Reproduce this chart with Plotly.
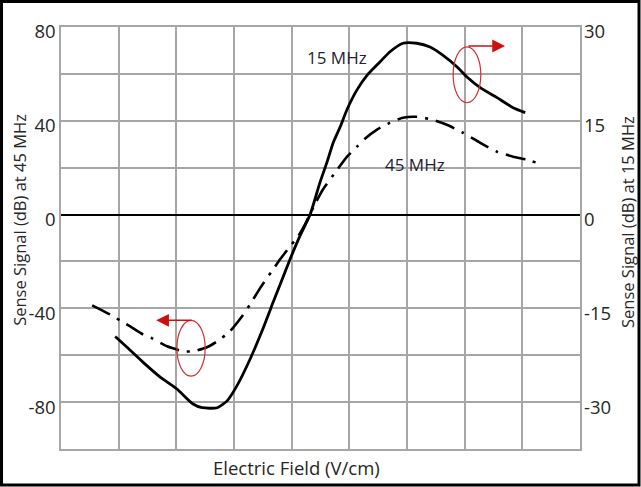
import plotly.graph_objects as go

# Electric field positions (grid units) and sense signal readings
field_45 = [0.54, 0.85, 1.02, 1.20, 1.42, 1.58, 1.84, 2.12, 2.29, 2.53, 2.71, 2.93,
            3.14, 3.28, 3.45, 3.66, 3.80, 3.97, 4.11, 4.23, 4.40, 4.54, 4.79, 4.96,
            5.13, 5.27, 5.48, 5.70, 5.93, 6.17, 6.45, 6.69, 6.97, 7.27, 7.56, 7.84,
            8.08, 8.25]
signal_45 = [-38.7, -42.6, -45.1, -47.7, -51.1, -52.8, -56.2, -58.3, -58.3, -56.6, -54.0, -49.8,
             -43.4, -38.3, -31.5, -24.0, -19.1, -13.6, -9.4, -4.3, 4.3, 10.6, 19.1, 24.7,
             28.9, 32.3, 36.2, 39.1, 41.3, 41.7, 40.4, 38.3, 34.9, 30.6, 26.8, 24.7,
             23.4, 22.1]

field_15 = [0.94, 1.14, 1.42, 1.72, 2.01, 2.29, 2.45, 2.71, 2.88, 3.05, 3.28, 3.50,
            3.68, 3.97, 4.14, 4.32, 4.49, 4.61, 4.72, 4.84, 4.96, 5.13, 5.31, 5.53,
            5.70, 5.93, 6.17, 6.40, 6.62, 6.87, 7.04, 7.27, 7.56, 7.84, 8.05]
signal_15 = [-19.5, -21.2, -23.6, -26.0, -27.9, -30.3, -30.9, -30.9, -29.8, -27.4, -23.1, -18.3,
             -14.0, -7.2, -3.5, 0.0, 5.1, 8.3, 11.5, 14.0, 16.8, 19.9, 22.3, 24.4,
             26.0, 27.4, 27.4, 26.8, 25.5, 23.6, 22.0, 20.3, 18.7, 17.1, 16.3]

left_ticks = [-80, -40, 0, 40, 80]
left_labels = ["-80", "-40", "0", "40", "80"]
right_ticks = [-30, -15, 0, 15, 30]
right_labels = ["-30", "-15", "0", "15", "30"]

FONT = "Open Sans"
TXT = "#262626"
GRID = "#a6a6a6"

fig = go.Figure()
fig.add_trace(go.Scatter(
    x=field_45, y=signal_45, mode="lines", yaxis="y",
    line=dict(color="black", width=2.6, dash="20px,8px,3px,8px", shape="spline", smoothing=0.6),
    showlegend=False, hoverinfo="skip"))
fig.add_trace(go.Scatter(
    x=field_15, y=signal_15, mode="lines", yaxis="y2",
    line=dict(color="black", width=2.8, shape="spline", smoothing=0.6),
    showlegend=False, hoverinfo="skip"))

fig.update_layout(
    width=641, height=487,
    margin=dict(l=61, r=61, t=27, b=38),
    paper_bgcolor="white", plot_bgcolor="white",
    font=dict(family=FONT, color=TXT),
    xaxis=dict(range=[0, 9], dtick=1, showticklabels=False, ticks="",
               showgrid=True, gridcolor=GRID, gridwidth=1.5, zeroline=False,
               showline=True, linecolor=GRID, linewidth=1.5, mirror=True),
    yaxis=dict(range=[-100, 80], tickvals=left_ticks, ticktext=left_labels, ticks="",
               tickfont=dict(size=18.5, family=FONT, color=TXT), ticklabelshift=5,
               showgrid=True, gridcolor=GRID, gridwidth=1.5,
               minor=dict(dtick=20, tick0=0, showgrid=True, gridcolor=GRID, gridwidth=1.5),
               zeroline=True, zerolinecolor="black", zerolinewidth=1.5,
               showline=True, linecolor=GRID, linewidth=1.5, mirror=True),
    yaxis2=dict(range=[-37.5, 30], tickvals=right_ticks, ticktext=right_labels,
                overlaying="y", side="right", ticks="",
                tickfont=dict(size=18.5, family=FONT, color=TXT),
                ticklabelshift=5, ticklabelstandoff=3,
                showgrid=False, zeroline=False, showline=False),
)

# Axis titles
fig.add_annotation(text="Sense Signal (dB) at 45 MHz", xref="paper", yref="paper",
                   x=-0.079, y=0.543, textangle=-90, showarrow=False,
                   xanchor="center", yanchor="middle", font=dict(size=16.5, color=TXT))
fig.add_annotation(text="Sense Signal (dB) at 15 MHz", xref="paper", yref="paper",
                   x=1.0925, y=0.538, textangle=-90, showarrow=False,
                   xanchor="center", yanchor="middle", font=dict(size=16.5, color=TXT))
fig.add_annotation(text="Electric Field (V/cm)", xref="paper", yref="paper",
                   x=0.4547, y=-0.045, showarrow=False,
                   xanchor="center", yanchor="middle", font=dict(size=18.5, color=TXT))

# Curve labels
fig.add_annotation(text="15 MHz", x=4.78, y=67.2, xref="x", yref="y", showarrow=False,
                   font=dict(size=17, color="#1f2233"))
fig.add_annotation(text="45 MHz", x=6.14, y=21.3, xref="x", yref="y", showarrow=False,
                   font=dict(size=17, color="#1f2233"))

# Axis indicator ellipses and arrows
RED = "#d03030"
fig.add_shape(type="circle", xref="x", yref="y", x0=6.80, x1=7.28, y0=47.7, y1=71.5,
              line=dict(color=RED, width=1.2))
fig.add_shape(type="circle", xref="x", yref="y", x0=2.01, x1=2.50, y0=-68.9, y1=-45.1,
              line=dict(color=RED, width=1.2))
fig.add_annotation(x=7.70, y=71.9, ax=7.04, ay=71.9, xref="x", yref="y", axref="x", ayref="y",
                   text="", showarrow=True, arrowhead=2, arrowsize=1.6, arrowwidth=1.6,
                   arrowcolor="#cc1010")
fig.add_annotation(x=1.65, y=-45.1, ax=2.29, ay=-45.1, xref="x", yref="y", axref="x", ayref="y",
                   text="", showarrow=True, arrowhead=2, arrowsize=1.6, arrowwidth=1.6,
                   arrowcolor="#cc1010")

# Outer frame
fig.add_shape(type="rect", xref="paper", yref="paper",
              x0=-0.1146, x1=1.1137, y0=-0.0853, y1=1.0604,
              line=dict(color="black", width=3))

fig.write_html("out.html")
